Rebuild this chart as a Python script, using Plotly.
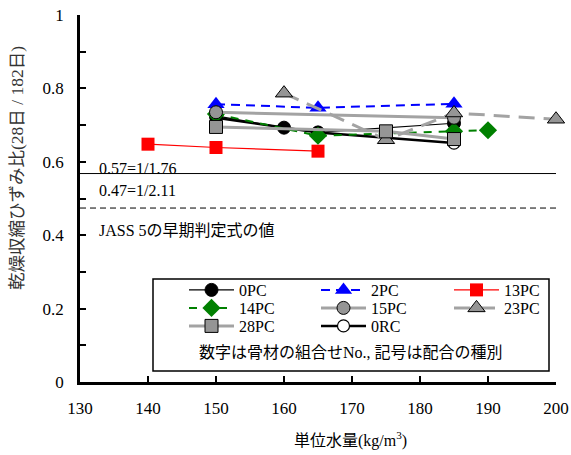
import plotly.graph_objects as go

# ---- data ----
x_0PC = [150, 160, 165, 185]
y_0PC = [0.725, 0.693, 0.680, 0.705]
x_2PC = [150, 165, 185]
y_2PC = [0.757, 0.747, 0.758]
x_13PC = [140, 150, 165]
y_13PC = [0.648, 0.639, 0.629]
x_14PC = [150, 165, 185, 190]
y_14PC = [0.730, 0.671, 0.683, 0.686]
x_15PC = [150, 185]
y_15PC = [0.735, 0.720]
x_23PC = [160, 175, 185, 200]
y_23PC = [0.787, 0.660, 0.733, 0.716]
x_28PC = [150, 175, 185]
y_28PC = [0.695, 0.683, 0.662]
x_0RC = [150, 165, 185]
y_0RC = [0.720, 0.680, 0.651]

ref_solid = 0.568   # 1/1.76
ref_dash = 0.474    # 1/2.11
x_ticks = [130, 140, 150, 160, 170, 180, 190, 200]
y_ticks = [0, 0.2, 0.4, 0.6, 0.8, 1]
y_ticklabels = ["0", "0.2", "0.4", "0.6", "0.8", "1"]

FONT = "Liberation Serif, Noto Sans CJK JP, serif"
GRAY = "#a3a3a3"
MGRAY = "#959595"

L, R, T, B = 80, 15, 15, 73
W, H = 571, 455
pw, ph = W - L - R, H - T - B

def px_x(p):
    return (p - L) / pw

def px_y(p):
    return (H - B - p) / ph

fig = go.Figure()

def add(x, y, name, legend, line, marker):
    fig.add_trace(go.Scatter(x=x, y=y, name=name, mode="lines+markers",
                             line=line, marker=marker, legend=legend,
                             cliponaxis=False))

# drawing order: 0RC underneath
add(x_0RC, y_0RC, "0RC", "legend8",
    dict(color="black", width=2.5),
    dict(symbol="circle", size=12, color="white", line=dict(color="black", width=1.2)))
add(x_0PC, y_0PC, "0PC", "legend",
    dict(color="black", width=1.2),
    dict(symbol="circle", size=13, color="black", line=dict(color="black", width=1)))
add(x_2PC, y_2PC, "2PC", "legend2",
    dict(color="#0000ff", width=2, dash="9px,6px"),
    dict(symbol="triangle-up", size=15, color="#0000ff", line=dict(color="#0000ff", width=0)))
add(x_13PC, y_13PC, "13PC", "legend3",
    dict(color="#ff0000", width=1.2),
    dict(symbol="square", size=13, color="#ff0000", line=dict(color="#ff0000", width=0)))
add(x_14PC, y_14PC, "14PC", "legend4",
    dict(color="#008000", width=2, dash="8px,7px"),
    dict(symbol="diamond", size=14, color="#008000", line=dict(color="#008000", width=0)))
add(x_15PC, y_15PC, "15PC", "legend5",
    dict(color=GRAY, width=3),
    dict(symbol="circle", size=13, color=MGRAY, line=dict(color="black", width=1)))
add(x_23PC, y_23PC, "23PC", "legend6",
    dict(color=GRAY, width=3, dash="16px,9px"),
    dict(symbol="triangle-up", size=15, color=MGRAY, line=dict(color="black", width=1)))
add(x_28PC, y_28PC, "28PC", "legend7",
    dict(color=GRAY, width=3),
    dict(symbol="square", size=13, color=MGRAY, line=dict(color="black", width=1)))

# reference lines
fig.add_hline(y=ref_solid, line=dict(color="black", width=1))
fig.add_hline(y=ref_dash, line=dict(color="black", width=1, dash="6px,4px"))

# legend box
fig.add_shape(type="rect", xref="paper", yref="paper",
              x0=px_x(153), x1=px_x(549), y0=px_y(371), y1=px_y(279),
              line=dict(color="black", width=1.5), fillcolor="rgba(0,0,0,0)")

leg_common = dict(orientation="h", xref="paper", yref="paper", xanchor="left",
                  yanchor="middle", bgcolor="rgba(0,0,0,0)", borderwidth=0,
                  itemwidth=45,
                  font=dict(family=FONT, size=16, color="black"),
                  itemclick=False, itemdoubleclick=False)
col_text_x = [240, 372, 505]
row_y = [290, 308, 326]
legend_slots = {
    "legend": (0, 0), "legend2": (1, 0), "legend3": (2, 0),
    "legend4": (0, 1), "legend5": (1, 1), "legend6": (2, 1),
    "legend7": (0, 2), "legend8": (1, 2),
}
leg_layout = {}
for key, (c, r) in legend_slots.items():
    leg_layout[key] = dict(x=px_x(col_text_x[c] - 56), y=px_y(row_y[r]), **leg_common)
fig.update_layout(**leg_layout)

annots = [
    dict(text="0.57=1/1.76", x=px_x(97), y=px_y(168), xanchor="left", size=16),
    dict(text="0.47=1/2.11", x=px_x(97), y=px_y(190), xanchor="left", size=16),
    dict(text="JASS 5の早期判定式の値", x=px_x(97), y=px_y(230), xanchor="left", size=16),
    dict(text="数字は骨材の組合せNo., 記号は配合の種別", x=px_x(351), y=px_y(352), xanchor="center", size=16),
    dict(text="単位水量(kg/m<sup>3</sup>)", x=px_x(350), y=px_y(440), xanchor="center", size=16),
]
for a in annots:
    fig.add_annotation(text=a["text"], x=a["x"], y=a["y"], xref="paper", yref="paper",
                       xanchor=a["xanchor"], yanchor="middle", showarrow=False,
                       font=dict(family=FONT, size=a["size"], color="black"))

fig.add_annotation(text="乾燥収縮ひずみ比(28日 / 182日)", x=px_x(17), y=px_y(168),
                   xref="paper", yref="paper", xanchor="center", yanchor="middle",
                   textangle=-90, showarrow=False,
                   font=dict(family=FONT, size=17.5, color="#333333"))

fig.update_xaxes(range=[130, 200], tickvals=x_ticks, ticks="inside", ticklen=6,
                 tickwidth=2, tickcolor="black", showline=True, linecolor="black",
                 linewidth=2.5, showgrid=False, zeroline=False, ticklabelstandoff=9,
                 automargin=False,
                 tickfont=dict(family=FONT, size=17, color="black"))
fig.update_yaxes(range=[0, 1], tickvals=y_ticks, ticktext=y_ticklabels, ticks="inside",
                 ticklen=6, tickwidth=2, tickcolor="black", showline=True,
                 linecolor="black", linewidth=2.5, showgrid=False, zeroline=False,
                 ticklabelstandoff=10, automargin=False,
                 minor=dict(dtick=0.1, ticks="inside", ticklen=6, tickwidth=2,
                            tickcolor="black", showgrid=False),
                 tickfont=dict(family=FONT, size=17, color="black"))

fig.update_layout(width=W, height=H, margin=dict(l=L, r=R, t=T, b=B, autoexpand=False),
                  plot_bgcolor="white", paper_bgcolor="white", showlegend=True,
                  font=dict(family=FONT, color="black"))

fig.write_html("out.html", config={"displayModeBar": False},
               post_script="document.body.style.margin='0';document.body.style.padding='0';")
